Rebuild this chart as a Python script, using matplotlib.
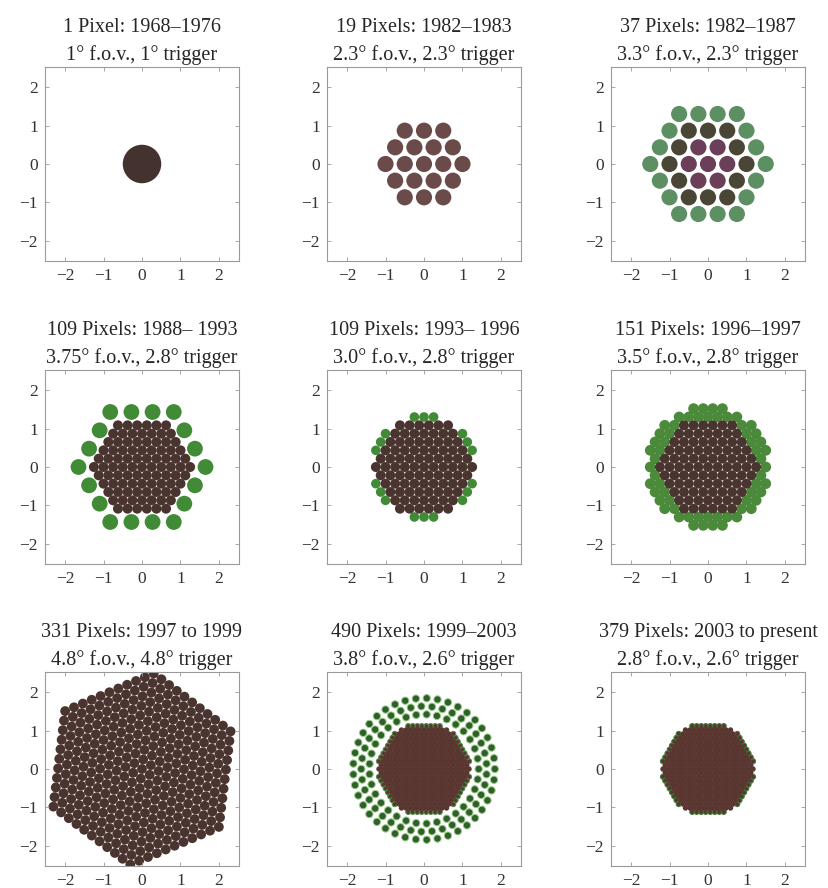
import matplotlib
matplotlib.use("Agg")
import matplotlib.pyplot as plt
import numpy as np
from matplotlib.patches import Circle
from matplotlib.collections import PatchCollection

plt.rcParams.update({"font.family": "serif",
                     "font.serif": ["Liberation Serif", "DejaVu Serif"]})

titles = ["1 Pixel: 1968–1976", "19 Pixels: 1982–1983", "37 Pixels: 1982–1987",
          "109 Pixels: 1988– 1993", "109 Pixels: 1993– 1996", "151 Pixels: 1996–1997",
          "331 Pixels: 1997 to 1999", "490 Pixels: 1999–2003", "379 Pixels: 2003 to present"]
subtitles = ["1° f.o.v., 1° trigger", "2.3° f.o.v., 2.3° trigger", "3.3° f.o.v., 2.3° trigger",
             "3.75° f.o.v., 2.8° trigger", "3.0° f.o.v., 2.8° trigger", "3.5° f.o.v., 2.8° trigger",
             "4.8° f.o.v., 4.8° trigger", "3.8° f.o.v., 2.6° trigger", "2.8° f.o.v., 2.6° trigger"]
n_pixels = [1, 19, 37, 109, 109, 151, 331, 490, 379]
ticks = [-2, -1, 0, 1, 2]

DARK = "#4a3430"
GREEN = "#418a36"

# hexagonal pixel groups:
# (first ring, last ring, spacing deg, diameter deg, face colour, edge colour, which pixels)
hex_groups = [
    [(0, 0, 1.0, 1.0, "#44322e", "none", "all")],
    [(0, 2, 0.5, 0.42, "#6b4b49", "none", "all")],
    [(0, 1, 0.5, 0.42, "#6a3f57", "none", "all"),
     (2, 2, 0.5, 0.42, "#4a4636", "none", "all"),
     (3, 3, 0.5, 0.42, "#5c9063", "none", "all")],
    [(0, 5, 0.25, 0.26, DARK, "none", "all"),
     (3, 3, 0.55, 0.41, GREEN, "none", "all")],
    [(6, 6, 0.25, 0.25, GREEN, "none", "mid3"),
     (0, 5, 0.25, 0.26, DARK, "none", "all")],
    [(6, 6, 0.25, 0.28, "#4b8a3b", "none", "all"),
     (7, 7, 0.25, 0.28, "#4b8a3b", "none", "trim"),
     (0, 5, 0.25, 0.26, DARK, "none", "all")],
    [(0, 10, 0.25, 0.255, DARK, "none", "all")],
    [(11, 11, 0.117, 0.13, "#5a3631", "#4f8a45", "trim"),
     (0, 10, 0.117, 0.14, "#5a3631", "none", "all")],
    [(11, 11, 0.117, 0.13, "#5a3631", "#3f7a38", "trim"),
     (0, 10, 0.117, 0.14, "#5a3631", "none", "all")],
]
rotations = [0, 0, 0, 0, 0, 0, 23, 0, 0]

# outer circular rings of the 490 pixel camera: (radius, count)
ring_radius = [1.42, 1.63, 1.84]
ring_count = [33, 37, 41]


def hex_ring(n, step, select):
    if n == 0:
        return [(0.0, 0.0)]
    pts = []
    for k in range(6):
        a0 = np.radians(60 * k)
        a1 = np.radians(60 * (k + 1))
        c0 = n * step * np.array([np.cos(a0), np.sin(a0)])
        c1 = n * step * np.array([np.cos(a1), np.sin(a1)])
        for j in range(n):
            if select == "mid3" and abs(j - n / 2) > 1:
                continue
            if select == "trim" and j in (0, 1, n - 1):
                continue
            pts.append(c0 + (c1 - c0) * j / n)
    return pts


def add_pixels(ax, pts, diam, colour, edge="none", lw=0.0):
    circles = [Circle((x, y), diam / 2) for x, y in pts]
    pc = PatchCollection(circles, facecolor=colour, edgecolor=edge, linewidth=lw)
    ax.add_collection(pc)
    return len(pts)


fig = plt.figure(figsize=(8.29, 8.88), dpi=100)
W, H = 829, 888
cols_left = [45, 327, 611]
rows_top = [67, 370, 672]
size = 194

for i in range(9):
    r, c = divmod(i, 3)
    ax = fig.add_axes([cols_left[c] / W, 1 - (rows_top[r] + size) / H, size / W, size / H])
    ax.set_xlim(-2.52, 2.52)
    ax.set_ylim(-2.52, 2.52)
    ax.set_aspect("equal")

    rot = np.radians(rotations[i])
    rm = np.array([[np.cos(rot), -np.sin(rot)], [np.sin(rot), np.cos(rot)]])
    total = 0
    if i == 7:
        for k, (rad, cnt) in enumerate(zip(ring_radius, ring_count)):
            ang = 2 * np.pi * (np.arange(cnt) + 0.5 * k) / cnt
            pts = list(zip(rad * np.cos(ang), rad * np.sin(ang)))
            total += add_pixels(ax, pts, 0.19, "#2f5f2a", edge="#9ccc88", lw=0.7)
    for first, last, step, diam, colour, edge, select in hex_groups[i]:
        pts = []
        for n in range(first, last + 1):
            pts += [rm @ np.array(p) for p in hex_ring(n, step, select)]
        total += add_pixels(ax, pts, diam, colour, edge=edge,
                            lw=0.8 if edge != "none" else 0.0)

    ax.set_xticks(ticks)
    ax.set_yticks(ticks)
    ax.tick_params(direction="in", length=3, width=0.6, color="#999999",
                   top=True, right=True, labelsize=12.5, labelcolor="#333333", pad=5)
    for s in ax.spines.values():
        s.set_color("#9a9a9a")
        s.set_linewidth(0.8)
    ax.set_title(titles[i] + "\n" + subtitles[i], fontsize=14.5, color="#262626",
                 linespacing=1.55, pad=5)

plt.savefig("out.png", dpi=100, facecolor="white")
